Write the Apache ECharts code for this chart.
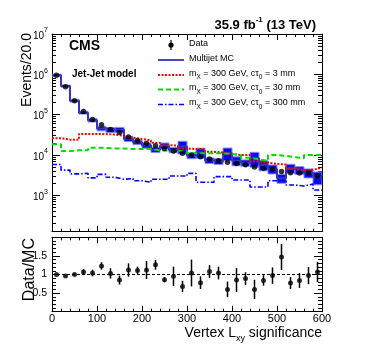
<!DOCTYPE html>
<html>
<head>
<meta charset="utf-8">
<script src="https://cdn.jsdelivr.net/npm/echarts@6/dist/echarts.min.js"></script>
<style>
html, body { margin: 0; padding: 0; background: #fff; }
#chart { width: 374px; height: 360px; }
</style>
</head>
<body>
<div id="chart"></div>
<script>
// bins of 20 in vertex Lxy significance
const binEdges = [0, 20, 40, 60, 80, 100, 120, 140, 160, 180, 200, 220, 240, 260, 280, 300,
  320, 340, 360, 380, 400, 420, 440, 460, 480, 500, 520, 540, 560, 580, 600];

const dataCounts = [950000, 490000, 220000, 120000, 76000, 56000, 43000, 36000, 28000, 23000,
  19400, 17000, 14500, 12600, 11000, 10000, 9000, 7900, 7200, 6600,
  6100, 5700, 5000, 4700, 4400, 3900, 3600, 3550, 3500, 3000];

const mcCounts = [950000, 510000, 220000, 112000, 73000, 45500, 42000, 42000, 25000, 20700,
  17300, 13500, 16900, 13300, 16200, 9600, 11500, 7300, 6900, 11000,
  7200, 6400, 8300, 5600, 4500, 2650, 4700, 4200, 3600, 2800];

// relative MC stat uncertainty (band half height)
const mcRelErr = [0.06, 0.06, 0.07, 0.08, 0.10, 0.13, 0.14, 0.15, 0.14, 0.13,
  0.15, 0.15, 0.17, 0.15, 0.35, 0.16, 0.28, 0.16, 0.16, 0.35,
  0.25, 0.18, 0.40, 0.28, 0.25, 0.25, 0.25, 0.22, 0.25, 0.35];

const sig3mm = [26000, 24000, 24000, 33000, 33000, 33000, 32000, 30000, 27000, 25000,
  23000, 20000, 17500, 17000, 14500, 14000, 14000, 12000, 11500, 10500,
  10000, 10000, 7000, 6500, 6000, 5800, 4500, 4200, 4300, 4800];

const sig30mm = [18500, 12500, 13000, 13000, 15000, 15000, 14500, 14500, 14000, 14000,
  14000, 13000, 12700, 12700, 12500, 11000, 11000, 11000, 11000, 10500,
  10000, 8500, 7800, 7200, 10000, 9500, 8800, 8300, 10000, 10000];

const sig300mm = [5800, 4200, 3400, 3500, 2700, 3300, 2800, 2500, 2600, 2300,
  2100, 2500, 2500, 3000, 3000, 3500, 2100, 2100, 2900, 2900,
  2400, 2400, 1600, 1600, 2300, 2300, 1800, 1700, 1900, 1350];

const ratio = [1.00, 0.96, 1.00, 1.07, 1.04, 1.23, 1.03, 0.85, 1.12, 1.11,
  1.12, 1.26, 0.86, 0.95, 0.68, 1.04, 0.78, 1.08, 1.04, 0.60,
  0.85, 0.89, 0.60, 0.84, 0.97, 1.47, 0.77, 0.84, 0.97, 1.07];

const ratioErr = [0.02, 0.02, 0.03, 0.08, 0.09, 0.10, 0.14, 0.12, 0.18, 0.10,
  0.24, 0.13, 0.07, 0.26, 0.15, 0.36, 0.17, 0.17, 0.17, 0.21,
  0.32, 0.17, 0.26, 0.14, 0.22, 0.35, 0.16, 0.20, 0.23, 0.27];

const FONT = 'Liberation Sans';

// histogram outline points
function steps(vals) {
  const pts = [];
  vals.forEach((v, i) => {
    pts.push([binEdges[i], v]);
    pts.push([binEdges[i + 1], v]);
  });
  return pts;
}
const centers = dataCounts.map((v, i) => (binEdges[i] + binEdges[i + 1]) / 2);

const bandData = mcCounts.map((v, i) => [binEdges[i], binEdges[i + 1], v * (1 - mcRelErr[i]), v * (1 + mcRelErr[i])]);

function mkX(grid, pos, labels) {
  return {
    type: 'value', gridIndex: grid, position: pos, min: 0, max: 600, interval: 100,
    axisLine: { onZero: false, lineStyle: { color: '#000', width: 1 } },
    axisTick: { inside: true, length: 6, lineStyle: { color: '#000' } },
    minorTick: { show: true, splitNumber: 5, length: 3, lineStyle: { color: '#000' } },
    splitLine: { show: false },
    axisLabel: { show: labels, color: '#000', fontFamily: FONT, fontSize: 11, margin: 2 }
  };
}
function mkLogY(pos, labels) {
  return {
    type: 'log', logBase: 10, gridIndex: 0, position: pos, min: 125, max: 1e7,
    axisLine: { onZero: false, lineStyle: { color: '#000', width: 1 } },
    axisTick: { inside: true, length: 8, lineStyle: { color: '#000' } },
    minorTick: { show: true, splitNumber: 9, length: 4, lineStyle: { color: '#000' } },
    splitLine: { show: false },
    axisLabel: {
      show: labels, showMinLabel: false, margin: 4,
      formatter: v => '{b|10}{s|' + Math.round(Math.log10(v)) + '}',
      rich: {
        b: { fontFamily: FONT, fontSize: 10, color: '#000', lineHeight: 14, verticalAlign: 'bottom' },
        s: { fontFamily: FONT, fontSize: 7, color: '#000', lineHeight: 7, verticalAlign: 'top' }
      }
    }
  };
}
function mkRatioY(pos, labels) {
  return {
    type: 'value', gridIndex: 1, position: pos, min: 0, max: 2, interval: 0.5,
    axisLine: { onZero: false, lineStyle: { color: '#000', width: 1 } },
    axisTick: { inside: true, length: 8, lineStyle: { color: '#000' } },
    minorTick: { show: true, splitNumber: 5, length: 4, lineStyle: { color: '#000' } },
    splitLine: { show: false },
    axisLabel: {
      show: labels, color: '#000', fontFamily: FONT, fontSize: 10.5, margin: 5,
      formatter: v => (v === 0 || v === 2) ? '' : String(v)
    }
  };
}

const sup = { fontFamily: FONT, fontSize: 8, fontWeight: 'bold', lineHeight: 8, verticalAlign: 'top', fill: '#000' };
const legRich = {
  t: { fontFamily: FONT, fontSize: 9, lineHeight: 12, verticalAlign: 'top', fill: '#000' },
  sb: { fontFamily: FONT, fontSize: 6.5, lineHeight: 7, verticalAlign: 'bottom', fill: '#000' }
};
const legX0 = 158, legX1 = 184, legTx = 189;
const legY = [45, 60, 75, 89.5, 104.5];
function legLine(y, color, dash, w) {
  return { type: 'line', shape: { x1: legX0, y1: y, x2: legX1, y2: y }, style: { stroke: color, lineWidth: w, lineDash: dash } };
}
function legText(y, txt) {
  return { type: 'text', x: legTx, y: y, style: { text: txt, rich: legRich, fontFamily: FONT, fontSize: 9, fill: '#000', verticalAlign: 'middle' } };
}
function sigLabel(ct) {
  return '{t|m}{sb|X}{t| = 300 GeV, c\u03C4}{sb|0}{t| = ' + ct + ' mm}';
}

const chart = echarts.init(document.getElementById('chart'));
const option = {
  animation: false,
  grid: [
    { left: 52, right: 52, top: 34, height: 197.7 },
    { left: 52, right: 52, top: 237.3, height: 74.4 }
  ],
  xAxis: [mkX(0, 'bottom', false), mkX(0, 'top', false), mkX(1, 'bottom', true), mkX(1, 'top', false)],
  yAxis: [mkLogY('left', true), mkLogY('right', false), mkRatioY('left', true), mkRatioY('right', false)],
  graphic: [
    { type: 'text', x: 316, y: 16, style: {
      text: '{m|35.9 fb}{s|-1}{m| (13 TeV)}', align: 'right', fill: '#000',
      rich: { m: { fontFamily: FONT, fontSize: 13, fontWeight: 'bold', lineHeight: 16, verticalAlign: 'bottom', fill: '#000' }, s: sup }
    } },
    { type: 'text', x: 69, y: 46, style: { text: 'CMS', fontFamily: FONT, fontSize: 14, fontWeight: 'bold', fill: '#000', verticalAlign: 'middle' } },
    { type: 'text', x: 72, y: 74, style: { text: 'Jet-Jet model', fontFamily: FONT, fontSize: 10, fontWeight: 'bold', fill: '#000', verticalAlign: 'middle' } },
    { type: 'text', x: 20, y: 33, rotation: Math.PI / 2, style: { text: 'Events/20.0', fontFamily: FONT, fontSize: 14, fill: '#000', align: 'right', verticalAlign: 'top' } },
    { type: 'text', x: 22, y: 238, rotation: Math.PI / 2, style: { text: 'Data/MC', fontFamily: FONT, fontSize: 16, fill: '#000', align: 'right', verticalAlign: 'top' } },
    { type: 'text', x: 322, y: 326, style: {
      text: '{a|Vertex L}{b|xy}{a| significance}', align: 'right', fill: '#000',
      rich: {
        a: { fontFamily: FONT, fontSize: 14, lineHeight: 17, verticalAlign: 'top', fill: '#000' },
        b: { fontFamily: FONT, fontSize: 9, lineHeight: 9, verticalAlign: 'bottom', fill: '#000' }
      }
    } },
    // legend
    { type: 'line', shape: { x1: 171, y1: legY[0] - 5, x2: 171, y2: legY[0] + 5 }, style: { stroke: '#000', lineWidth: 1.2 } },
    { type: 'circle', shape: { cx: 171, cy: legY[0], r: 2.6 }, style: { fill: '#000' } },
    legText(legY[0], '{t|Data}'),
    legLine(legY[1], '#4a4ac0', null, 2),
    legText(legY[1], '{t|Multijet MC}'),
    legLine(legY[2], '#ff0000', [2, 1.5], 2),
    legText(legY[2], sigLabel(3)),
    legLine(legY[3], '#00dd00', [5, 3], 2),
    legText(legY[3], sigLabel(30)),
    legLine(legY[4], '#0000ff', [5, 2, 1.5, 2], 1.6),
    legText(legY[4], sigLabel(300))
  ],
  series: [
    {
      name: 'MC unc', type: 'custom', xAxisIndex: 0, yAxisIndex: 0, clip: true,
      encode: { x: [0, 1], y: [2, 3] },
      data: bandData,
      renderItem: (params, api) => {
        const p0 = api.coord([api.value(0), api.value(3)]);
        const p1 = api.coord([api.value(1), api.value(2)]);
        return { type: 'rect', shape: { x: p0[0], y: p0[1], width: p1[0] - p0[0], height: p1[1] - p0[1] },
          style: { fill: '#0a0af0', stroke: '#8a8aff', lineWidth: 1 } };
      },
      z: 1
    },
    {
      name: 'Multijet MC', type: 'line', xAxisIndex: 0, yAxisIndex: 0, data: steps(mcCounts),
      symbol: 'none', lineStyle: { color: '#3535b5', width: 2 }, z: 2
    },
    {
      name: '3 mm', type: 'line', xAxisIndex: 0, yAxisIndex: 0, data: steps(sig3mm),
      symbol: 'none', lineStyle: { color: '#ff0000', width: 2, type: [2, 1.5] }, z: 3
    },
    {
      name: '30 mm', type: 'line', xAxisIndex: 0, yAxisIndex: 0, data: steps(sig30mm),
      symbol: 'none', lineStyle: { color: '#00dd00', width: 2, type: [5, 3] }, z: 3
    },
    {
      name: '300 mm', type: 'line', xAxisIndex: 0, yAxisIndex: 0, data: steps(sig300mm),
      symbol: 'none', lineStyle: { color: '#0000ff', width: 1.6, type: [5, 2, 1.5, 2] }, z: 3
    },
    {
      name: 'Data', type: 'scatter', xAxisIndex: 0, yAxisIndex: 0,
      data: centers.map((c, i) => [c, dataCounts[i]]),
      symbol: 'circle', symbolSize: 5.5, itemStyle: { color: '#000' }, z: 5
    },
    {
      name: 'unity', type: 'line', xAxisIndex: 2, yAxisIndex: 2, data: [[0, 1], [600, 1]],
      symbol: 'none', lineStyle: { color: '#000', width: 1, type: [3, 2] }, z: 1
    },
    {
      name: 'ratio err', type: 'custom', xAxisIndex: 2, yAxisIndex: 2,
      encode: { x: 0, y: [1, 2] },
      data: centers.map((c, i) => [c, ratio[i] - ratioErr[i], ratio[i] + ratioErr[i]]),
      renderItem: (params, api) => {
        const a = api.coord([api.value(0), api.value(1)]);
        const b = api.coord([api.value(0), api.value(2)]);
        return { type: 'line', shape: { x1: a[0], y1: a[1], x2: b[0], y2: b[1] }, style: { stroke: '#000', lineWidth: 1.5 } };
      },
      z: 4
    },
    {
      name: 'ratio', type: 'scatter', xAxisIndex: 2, yAxisIndex: 2,
      data: centers.map((c, i) => [c, ratio[i]]),
      symbol: 'circle', symbolSize: 5, itemStyle: { color: '#000' }, z: 5
    }
  ]
};
chart.setOption(option);
window.addEventListener('resize', () => chart.resize());
</script>
</body>
</html>
